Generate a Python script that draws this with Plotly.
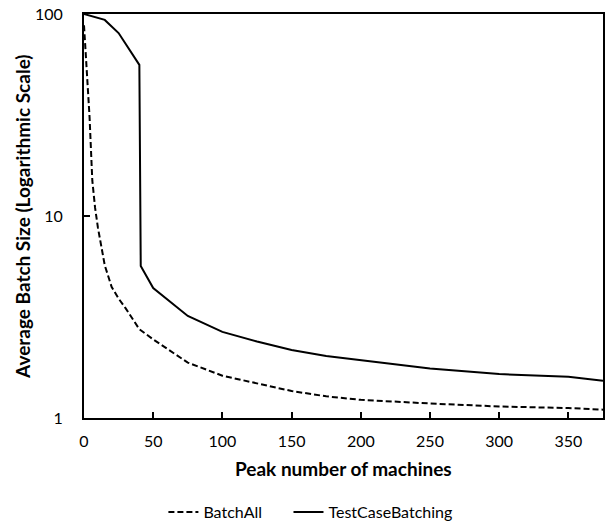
import plotly.graph_objects as go

# Data
batchall_x = [0, 2, 4, 6, 8, 10, 15, 20, 25, 30, 40, 50, 75, 100, 125, 150, 175, 200, 250, 300, 350, 375]
batchall_y = [88, 52, 31, 15, 11, 8.8, 5.7, 4.45, 3.9, 3.5, 2.75, 2.45, 1.88, 1.62, 1.48, 1.36, 1.28, 1.23, 1.18, 1.14, 1.12, 1.10]

tcb_x = [0, 15, 25, 40, 41, 50, 75, 100, 125, 150, 175, 200, 250, 300, 350, 375]
tcb_y = [100, 93.5, 80.5, 56, 5.65, 4.4, 3.2, 2.67, 2.39, 2.17, 2.03, 1.94, 1.76, 1.65, 1.6, 1.53]

x_ticks = [0, 50, 100, 150, 200, 250, 300, 350]
y_ticks = [1, 10, 100]
y_tick_labels = ["1", "10", "100"]

FONT = "Lato"

fig = go.Figure()
fig.add_trace(go.Scatter(x=batchall_x, y=batchall_y, mode="lines", name="BatchAll",
                         line=dict(color="black", width=2, dash="6px,3px"), legend="legend"))
fig.add_trace(go.Scatter(x=tcb_x, y=tcb_y, mode="lines", name="TestCaseBatching",
                         line=dict(color="black", width=2), legend="legend2"))

legend_common = dict(orientation="h", xanchor="left", y=-0.2327, yanchor="middle",
                     font=dict(size=16, family=FONT), bgcolor="rgba(0,0,0,0)")

fig.update_layout(
    width=605, height=525,
    margin=dict(l=84, r=2, t=14, b=107, autoexpand=False),
    paper_bgcolor="white", plot_bgcolor="white",
    font=dict(family=FONT, size=16, color="black"),
    showlegend=True,
    legend=dict(x=0.153, **legend_common),
    legend2=dict(x=0.394, **legend_common),
    xaxis=dict(range=[0, 375], tickvals=x_ticks, ticks="inside", ticklen=6, tickwidth=1.5,
               tickcolor="black", showline=True, linecolor="black", linewidth=2, mirror=True,
               showgrid=False, zeroline=False, ticklabelstandoff=8, automargin=False,
               tickfont=dict(size=16, family=FONT)),
    yaxis=dict(type="log", range=[0, 2], tickvals=y_ticks, ticktext=y_tick_labels,
               ticks="inside", ticklen=6, tickwidth=1.5, tickcolor="black",
               showline=True, linecolor="black", linewidth=2, mirror=True,
               showgrid=False, zeroline=False, ticklabelstandoff=16, automargin=False,
               tickfont=dict(size=16, family=FONT)),
    annotations=[
        dict(text="<b>Peak number of machines</b>", xref="paper", yref="paper",
             x=0.5, y=-0.1238, xanchor="center", yanchor="middle", showarrow=False,
             font=dict(size=19, family=FONT)),
        dict(text="<b>Average Batch Size (Logarithmic Scale)</b>", xref="paper", yref="paper",
             x=-0.1195, y=0.5, xanchor="center", yanchor="middle", showarrow=False,
             textangle=-90, font=dict(size=19, family=FONT)),
    ],
)

fig.write_html("out.html", config={"displayModeBar": False},
               post_script="document.body.style.margin='0';document.body.style.padding='0';")
